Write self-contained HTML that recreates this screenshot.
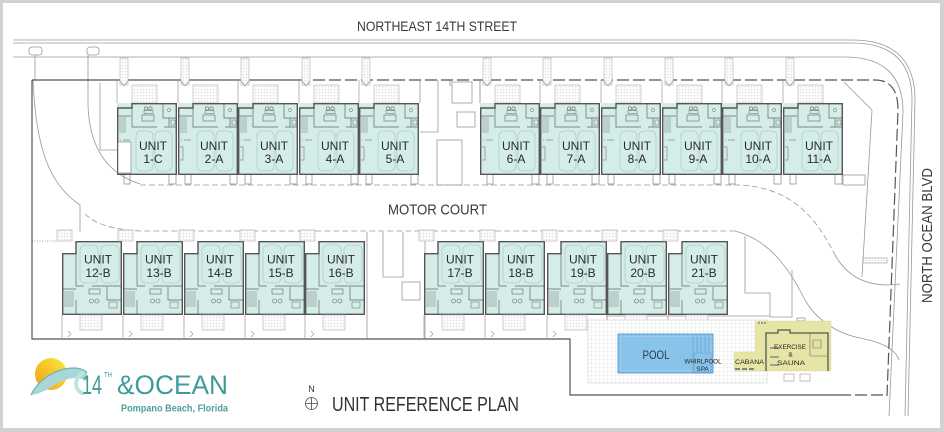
<!DOCTYPE html>
<html><head><meta charset="utf-8">
<style>
html,body{margin:0;padding:0;background:#d2d2d2;}
svg{display:block;}
text{font-family:"Liberation Sans",sans-serif;}
</style></head>
<body>
<svg width="944" height="432" viewBox="0 0 944 432" xmlns="http://www.w3.org/2000/svg">
<defs>
 <pattern id="g3" width="3" height="3" patternUnits="userSpaceOnUse"><rect width="3" height="3" fill="#fff"/><path d="M3 0V3M0 3H3" stroke="#cdcdcd" stroke-width=".5" fill="none"/></pattern>
 <pattern id="g4" width="4" height="4" patternUnits="userSpaceOnUse"><rect width="4" height="4" fill="#fff"/><path d="M4 0V4M0 4H4" stroke="#d4d4d4" stroke-width=".5" fill="none"/></pattern>
 <linearGradient id="sun" x1="0" y1="1" x2="1" y2="0">
  <stop offset="0" stop-color="#f29a1c"/><stop offset=".55" stop-color="#f6c82b"/><stop offset="1" stop-color="#f8ef40"/>
 </linearGradient>
 <g id="ut">
  <rect x="3" y="58" width="8" height="27" fill="url(#g3)" stroke="#b0b0b0" stroke-width=".6"/>
  <path d="M0 80V103M3 81l4 5 4-5" fill="none" stroke="#999" stroke-width=".7"/>
  <rect x="15" y="85" width="25" height="18" fill="url(#g3)" stroke="#b0b0b0" stroke-width=".6"/>
  <rect x="0" y="103" width="60" height="72" fill="#d4ede8"/>
  <rect x="19" y="131" width="17" height="40" rx="5" fill="none" stroke="#b2cdca" stroke-width=".8"/>
  <rect x="38" y="131" width="17" height="40" rx="5" fill="none" stroke="#b2cdca" stroke-width=".8"/>
  <path d="M15 104V127H40M47 127H59M46 104V118H59M52 118V127M1 116H14" fill="none" stroke="#666" stroke-width=".7"/>
  <path d="M2 118H9M2 120H9M2 122H9M2 124H9M2 126H9M2 128H9M2 130H9M2 132H9" stroke="#777" stroke-width=".5"/>
  <rect x="25" y="115" width="12" height="6" fill="none" stroke="#666" stroke-width=".6"/>
  <circle cx="29" cy="108.5" r="1.7" fill="none" stroke="#666" stroke-width=".6"/>
  <circle cx="33.5" cy="108.5" r="1.7" fill="none" stroke="#666" stroke-width=".6"/>
  <rect x="27" y="110.5" width="9" height="3" fill="none" stroke="#666" stroke-width=".5"/>
  <rect x="54" y="120" width="4" height="5" fill="none" stroke="#666" stroke-width=".5"/>
  <circle cx="52" cy="110" r="1.6" fill="none" stroke="#666" stroke-width=".5"/>
  <path d="M3 140h1M6 140h7M2 147h3v13h-3" fill="none" stroke="#888" stroke-width=".7"/>
  <path d="M0.7 108H15V103.7H59.3V174.3H0.7Z" fill="none" stroke="#555" stroke-width="1.4"/>
  <path d="M7 175v9h6v-9M52 175v9h7v-9" fill="none" stroke="#888" stroke-width=".7"/>
 </g>
 <g id="ub">
  <rect x="-5" y="230" width="15" height="11" fill="url(#g3)" stroke="#aaa" stroke-width=".6"/>
  <path d="M14 241H60V315H0V253H14Z" fill="#d4ede8"/>
  <rect x="18" y="245" width="18" height="38" rx="5" fill="none" stroke="#b2cdca" stroke-width=".8"/>
  <rect x="39" y="245" width="18" height="38" rx="5" fill="none" stroke="#b2cdca" stroke-width=".8"/>
  <path d="M14 253V286H22M30 286H60M45 287V300H60M1 289H14M14 300V315" fill="none" stroke="#666" stroke-width=".7"/>
  <path d="M2 292H12M2 294H12M2 296H12M2 298H12M2 300H12M2 302H12M2 304H12M2 306H12" stroke="#777" stroke-width=".5"/>
  <rect x="27" y="289" width="11" height="5" fill="none" stroke="#666" stroke-width=".6"/>
  <circle cx="29.5" cy="301" r="2" fill="none" stroke="#666" stroke-width=".6"/>
  <circle cx="35" cy="301" r="2" fill="none" stroke="#666" stroke-width=".6"/>
  <rect x="47" y="302" width="8" height="6" fill="none" stroke="#666" stroke-width=".5"/>
  <path d="M14 241.7H59.3V314.3H0.7V253.7H14Z" fill="none" stroke="#555" stroke-width="1.4"/>
  <rect x="18" y="315" width="22" height="15" fill="url(#g3)" stroke="#b0b0b0" stroke-width=".6"/>
  <path d="M0 315V339M6 331l3 3-3 3" fill="none" stroke="#999" stroke-width=".7"/>
 </g>
</defs>

<rect width="944" height="432" fill="#d2d2d2"/>
<rect x="3" y="3" width="937" height="425" fill="#fff"/>

<!-- streets -->
<g fill="none" stroke="#999" stroke-width=".8">
 <path d="M13 40H852Q915 40 915 100L908 416"/>
 <path d="M13 43H852Q912 43 912 100L905 416"/>
 <path d="M13 57H845Q903 57 903 112L889 416"/>
 <rect x="29" y="47" width="13" height="8" rx="3"/>
 <rect x="87" y="47" width="12" height="8" rx="3"/>
 <path d="M35 55V80M88 55V105Q90 168 140 184"/>
 <path d="M33 80C36 150 50 185 80 205V232"/>
 <path d="M100 83V150H117"/>
 <path d="M844 82L872 110L862 277"/>
 <rect x="843" y="175" width="22" height="10"/>
 <path d="M835 255C848 278 870 288 900 284"/>
 <path d="M735 231C770 240 790 270 805 300C815 318 835 333 860 338C880 342 895 348 899 360"/>
 <path d="M420 132H438V80M450 80V86"/>
 <rect x="452" y="82" width="20" height="21"/>
 <rect x="457" y="112" width="18" height="15"/>
 <rect x="437" y="140" width="25" height="45"/>
 <path d="M383 232V277H403V232M367 232V339M425 240V339"/>
 <rect x="402" y="282" width="18" height="18"/>
 <path d="M745 236V293H770V317H792V270"/>
 <rect x="797" y="318" width="8" height="3"/>
 <path d="M569 313H607V339M607 316H770"/>
 <path d="M420 80V103M480 80V103"/>
</g>
<rect x="863" y="258" width="24" height="5" fill="url(#g3)" stroke="#999" stroke-width=".6"/>
<path d="M140 185H740C790 188 815 215 835 255" fill="none" stroke="#999" stroke-width=".8" stroke-dasharray="6 3"/>
<path d="M85 214Q100 229 140 231H735" fill="none" stroke="#999" stroke-width=".8" stroke-dasharray="6 3"/>
<path d="M32 241H62" stroke="#888" stroke-width=".8" stroke-dasharray="1 1.5"/>

<!-- property boundary -->
<g fill="none" stroke="#555" stroke-width="1.2">
 <path d="M32 80H297M32 80V339H570V395H839"/>
 <path d="M297 80H875Q898 80 898 110L887 396M839 395H887" stroke-dasharray="12 4"/>
</g>

<!-- top units -->
<use href="#ut" x="117"/><use href="#ut" x="178"/><use href="#ut" x="238"/><use href="#ut" x="299"/><use href="#ut" x="359"/>
<use href="#ut" x="480"/><use href="#ut" x="540"/><use href="#ut" x="601"/><use href="#ut" x="662"/><use href="#ut" x="722"/><use href="#ut" x="783"/>
<!-- 1-C notch -->
<rect x="118" y="142" width="13" height="31" fill="#fff" stroke="#777" stroke-width=".6"/>

<!-- bottom units -->
<use href="#ub" x="62"/><use href="#ub" x="123"/><use href="#ub" x="184"/><use href="#ub" x="245"/><use href="#ub" x="305"/>
<use href="#ub" x="424"/><use href="#ub" x="485"/><use href="#ub" x="547"/><use href="#ub" x="607"/><use href="#ub" x="668"/>

<!-- unit labels -->
<g font-size="12" fill="#2a2a2a" text-anchor="middle">
 <text x="153" y="150">UNIT</text><text x="153" y="163">1-C</text>
 <text x="214" y="150">UNIT</text><text x="214" y="163">2-A</text>
 <text x="274" y="150">UNIT</text><text x="274" y="163">3-A</text>
 <text x="335" y="150">UNIT</text><text x="335" y="163">4-A</text>
 <text x="395" y="150">UNIT</text><text x="395" y="163">5-A</text>
 <text x="516" y="150">UNIT</text><text x="516" y="163">6-A</text>
 <text x="576" y="150">UNIT</text><text x="576" y="163">7-A</text>
 <text x="637" y="150">UNIT</text><text x="637" y="163">8-A</text>
 <text x="698" y="150">UNIT</text><text x="698" y="163">9-A</text>
 <text x="758" y="150">UNIT</text><text x="758" y="163">10-A</text>
 <text x="819" y="150">UNIT</text><text x="819" y="163">11-A</text>

 <text x="98" y="263.5">UNIT</text><text x="98" y="277">12-B</text>
 <text x="159" y="263.5">UNIT</text><text x="159" y="277">13-B</text>
 <text x="220" y="263.5">UNIT</text><text x="220" y="277">14-B</text>
 <text x="281" y="263.5">UNIT</text><text x="281" y="277">15-B</text>
 <text x="341" y="263.5">UNIT</text><text x="341" y="277">16-B</text>
 <text x="460" y="263.5">UNIT</text><text x="460" y="277">17-B</text>
 <text x="521" y="263.5">UNIT</text><text x="521" y="277">18-B</text>
 <text x="583" y="263.5">UNIT</text><text x="583" y="277">19-B</text>
 <text x="643" y="263.5">UNIT</text><text x="643" y="277">20-B</text>
 <text x="704" y="263.5">UNIT</text><text x="704" y="277">21-B</text>
</g>

<!-- pool area -->
<rect x="588" y="320" width="179" height="63" fill="url(#g4)" stroke="#ccc" stroke-width=".6"/>
<rect x="618" y="334" width="95" height="39" fill="#8ac3e9" stroke="#5c9fd3" stroke-width="1"/>
<rect x="620.5" y="336.5" width="90" height="34" fill="none" stroke="#a9d3f0" stroke-width=".6"/>
<path d="M693 334V373M697 335V352M701 335V352M705 335V352M709 335V352" stroke="#5c9fd3" stroke-width=".6" fill="none"/>
<rect x="694" y="353" width="17" height="19" fill="none" stroke="#5c9fd3" stroke-width=".6"/>
<text x="656" y="359" font-size="12" fill="#2a3a4a" text-anchor="middle" textLength="27" lengthAdjust="spacingAndGlyphs">POOL</text>
<text x="703" y="363.5" font-size="6.5" fill="#222" text-anchor="middle" textLength="37" lengthAdjust="spacingAndGlyphs">WHIRLPOOL</text>
<text x="702.5" y="371" font-size="6.5" fill="#222" text-anchor="middle">SPA</text>

<polygon points="755,321 831,321 831,371 734,371 734,352 755,352" fill="#e7e5a6" stroke="#c6c38a" stroke-width=".6" stroke-dasharray="1.5 1.5"/>
<path d="M766 371V333H778V330H790V333H828V371" fill="none" stroke="#555" stroke-width="1.3"/>
<path d="M810 333V356H828M813 340h8v8h-8z" fill="none" stroke="#666" stroke-width=".6"/>
<path d="M770 348h9M770 357h9M770 365h9" stroke="#888" stroke-width="1.5" fill="none"/>
<path d="M735 369h5M742 369h5M749 369h5" stroke="#666" stroke-width="1.5"/>
<circle cx="759" cy="323" r=".7" fill="#333"/><circle cx="762" cy="323" r=".7" fill="#333"/><circle cx="765" cy="323" r=".7" fill="#333"/>
<rect x="784" y="374" width="10" height="7" fill="none" stroke="#999" stroke-width=".6"/>
<rect x="800" y="374" width="10" height="7" fill="none" stroke="#999" stroke-width=".6"/>
<text x="749.5" y="364" font-size="6.5" fill="#222" text-anchor="middle" textLength="29" lengthAdjust="spacingAndGlyphs">CABANA</text>
<text x="790" y="349" font-size="6.5" fill="#222" text-anchor="middle" textLength="32" lengthAdjust="spacingAndGlyphs">EXERCISE</text>
<text x="790.5" y="356.5" font-size="6.5" fill="#222" text-anchor="middle">&amp;</text>
<text x="791" y="365" font-size="6.5" fill="#222" text-anchor="middle" textLength="28" lengthAdjust="spacingAndGlyphs">SAUNA</text>

<!-- street labels -->
<text x="357" y="31" font-size="14" fill="#3a3a3a" textLength="160" lengthAdjust="spacingAndGlyphs">NORTHEAST 14TH STREET</text>
<text x="388" y="214.5" font-size="15" fill="#3a3a3a" textLength="99" lengthAdjust="spacingAndGlyphs">MOTOR COURT</text>
<text transform="translate(932,235.5) rotate(-90)" x="0" y="0" font-size="14.5" fill="#3a3a3a" text-anchor="middle" textLength="135" lengthAdjust="spacingAndGlyphs">NORTH OCEAN BLVD</text>

<!-- compass + title -->
<text x="311.5" y="392" font-size="9" fill="#333" text-anchor="middle">N</text>
<circle cx="311.5" cy="403.5" r="6" fill="none" stroke="#444" stroke-width=".8"/>
<path d="M305.5 403.5h12M311.5 397.5v12" stroke="#444" stroke-width=".8"/>
<text x="332" y="411" font-size="20" fill="#333" textLength="187" lengthAdjust="spacingAndGlyphs">UNIT REFERENCE PLAN</text>

<!-- logo -->
<circle cx="51" cy="374" r="16" fill="url(#sun)"/>
<path d="M31 395C38 380 56 368 74 368C80 368 85 370 87 373L87 381C80 377 70 377 60 382C50 387 42 394 31 395Z" fill="#a9d7d6"/>
<path d="M31 395C38 380 56 368 74 368C80 368 85 370 87 373" fill="none" stroke="#6cb5b3" stroke-width="1.2"/>
<path d="M84 372C74 377 73 390 84 394" fill="none" stroke="#bfe3e1" stroke-width="4"/>
<text x="82" y="394" font-size="27" fill="#3e9b99" textLength="20" lengthAdjust="spacingAndGlyphs">14</text>
<text x="104" y="377" font-size="7" fill="#3e9b99" textLength="8" lengthAdjust="spacingAndGlyphs">TH</text>
<text x="117" y="394" font-size="27" fill="#3e9b99" textLength="111" lengthAdjust="spacingAndGlyphs">&amp;OCEAN</text>
<text x="121" y="411.5" font-size="10" font-weight="bold" fill="#4d9e9b" textLength="107" lengthAdjust="spacingAndGlyphs">Pompano Beach, Florida</text>
</svg>
</body></html>
